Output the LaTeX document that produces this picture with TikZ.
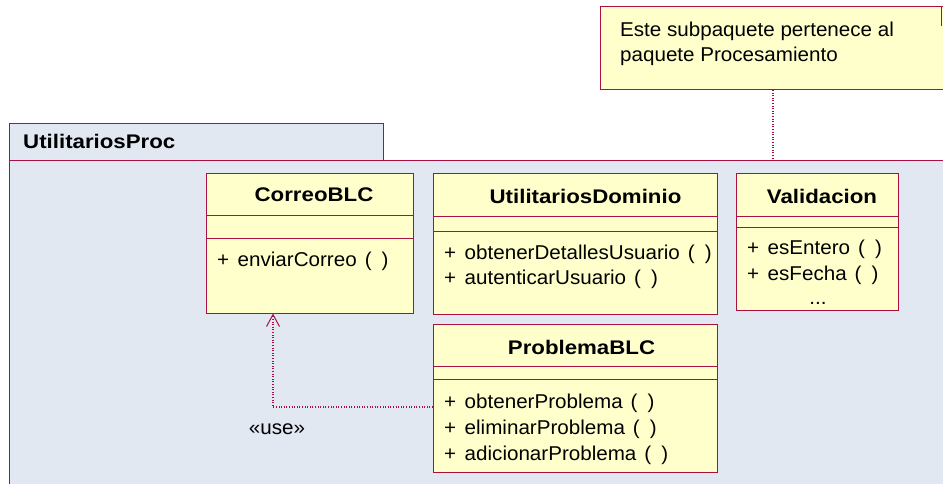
\documentclass[tikz,border=0pt]{standalone}
\usepackage{fontspec}
\setmainfont{Liberation Sans}[FakeStretch=1.03]
\newfontfamily\headfont{Liberation Sans}[FakeStretch=1.13]
\usetikzlibrary{arrows.meta}
\definecolor{umlline}{RGB}{170,16,66}
\definecolor{classfill}{RGB}{255,255,204}
\definecolor{pkgfill}{RGB}{225,232,242}
\tikzset{
  box/.style={draw=umlline, line width=1pt, fill=classfill, anchor=north west, inner sep=0pt, outer sep=0pt},
  pkgshape/.style={draw=umlline, line width=1pt, fill=pkgfill, anchor=north west, inner sep=0pt, outer sep=0pt},
  sepline/.style={draw=umlline, line width=1pt},
  member/.style={anchor=west, inner sep=0pt, font=\fontsize{20}{23}\selectfont},
  plain/.style={inner sep=0pt, font=\fontsize{20}{23}\selectfont},
  title/.style={inner sep=0pt, font=\headfont\bfseries\fontsize{19.7}{23}\selectfont},
  dep/.style={draw=umlline, line width=1.1pt, dash pattern=on 1pt off 1.6pt},
}
\newcommand{\op}[1]{+\hspace{8.5pt}#1\hspace{8pt}(\hspace{10pt})}

\begin{document}
\begin{tikzpicture}[x=1pt,y=-1pt]
\useasboundingbox (0,0) rectangle (943,484);
\clip (0,0) rectangle (943,484);

% package UtilitariosProc
\node[pkgshape, minimum width=951pt, minimum height=340pt] (pkg) at (9,161) {};
\node[pkgshape, minimum width=374pt, minimum height=37pt] (tab) at (9,124) {};
\node[title, anchor=west] (pkgname) at (23,141) {UtilitariosProc};

% note
\node[box, minimum width=360pt, minimum height=83pt] (note) at (600,7) {};
\draw[sepline] (941,7) -- (941,26);
\node[plain, anchor=base west] (notel1) at (620,37) {Este subpaquete pertenece al};
\node[plain, anchor=base west] (notel2) at (620,62) {paquete Procesamiento};
\draw[dep] (note.south -| 773,0) -- (pkg.north -| 773,0);

% class CorreoBLC
\node[box, minimum width=207pt, minimum height=139.5pt] (correo) at (206,174) {};
\draw[sepline] (206,215) -- (413,215);
\draw[sepline] (206,238) -- (413,238);
\node[title] (correoname) at (314,195) {CorreoBLC};
\node[member] (correo1) at (217,261) {\op{enviarCorreo}};

% class UtilitariosDominio
\node[box, minimum width=284pt, minimum height=140.5pt] (dominio) at (433,174) {};
\draw[sepline] (433,216) -- (717,216);
\draw[sepline] (433,231) -- (717,231);
\node[title] (dominioname) at (585.5,196) {UtilitariosDominio};
\node[member] (dominio1) at (444,254.5) {\op{obtenerDetallesUsuario}};
\node[member] (dominio2) at (444,279.5) {\op{autenticarUsuario}};

% class Validacion
\node[box, minimum width=162pt, minimum height=136pt] (valid) at (736,174) {};
\draw[sepline] (736,216) -- (898,216);
\draw[sepline] (736,227) -- (898,227);
\node[title] (validname) at (822,196) {Validacion};
\node[member] (valid1) at (747,249.5) {\op{esEntero}};
\node[member] (valid2) at (747,275.5) {\op{esFecha}};
\node[plain] (valid3) at (818,303.5) {...};

% class ProblemaBLC
\node[box, minimum width=284pt, minimum height=147.5pt] (problema) at (433,324.5) {};
\draw[sepline] (433,366.5) -- (717,366.5);
\draw[sepline] (433,379) -- (717,379);
\node[title] (problemaname) at (581.5,347) {ProblemaBLC};
\node[member] (problema1) at (444,403) {\op{obtenerProblema}};
\node[member] (problema2) at (444,429) {\op{eliminarProblema}};
\node[member] (problema3) at (444,455) {\op{adicionarProblema}};

% use dependency
\draw[dep, -{Straight Barb[length=12pt, width=13pt, line width=1pt]}]
  (problema.west |- 0,407) -| (correo.south -| 273,0);
\node[plain] (uselabel) at (277,429) {«use»};
\end{tikzpicture}
\end{document}
